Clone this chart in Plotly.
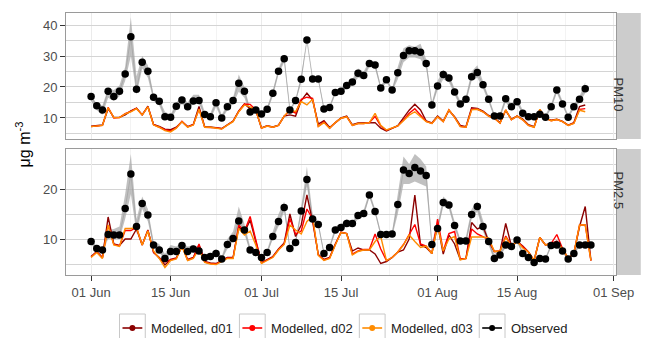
import pandas as pd
import plotly.graph_objects as go
from plotly.subplots import make_subplots

dates = pd.date_range("2015-06-01", periods=89, freq="D")
N = None

# ---------------- PM10 ----------------
pm10_obs = [16.9, 13.9, 12.6, 18.6, 16.9, 18.6, 24.2, 36.2, 19.3, 28.0, 25.1, 16.7, 15.4, 10.4, 10.2, 13.8, 15.8, 13.6, 15.5, 15.6,
            11.1, 10.4, 14.9, 10.0, 13.6, 15.6, 21.2, 18.6, 11.9, 12.6, 11.3, 12.8, 18.0, 25.1, 29.1, 12.6, 15.6, 22.5, 35.2, 22.6,
            22.6, 12.9, 13.4, 18.2, 18.6, 20.5, 21.6, 24.4, 23.7, 27.6, 27.1, 19.7, 22.3, 19.0, 24.6, 30.2, 31.7, 31.7, 31.2, 27.6,
            14.2, 20.3, 24.0, 22.9, 18.4, 14.5, 16.0, 23.3, 24.7, 20.7, 16.0, 10.6, 10.6, 16.2, 13.6, 15.2, 11.5, 10.4, 10.4, 11.2,
            10.2, 13.6, 19.0, 14.5, 10.2, 13.6, 16.0, 19.4, N]
pm10_lo = [15.5, 12.5, 11.0, 16.5, 15.5, 17.0, 22.0, 30.0, 17.5, 26.0, 23.0, 15.5, 14.0, 9.5, 9.5, 12.5, 14.5, 12.5, 14.5, 14.5,
           10.5, 9.5, 13.5, 9.5, 12.5, 14.5, 18.5, 16.5, 11.0, 11.5, 10.0, 12.0, 17.0, 24.0, 28.0, 12.0, 15.0, 21.5, 35.2, 22.0,
           22.0, 12.5, 13.0, 17.5, 18.0, 19.5, 20.5, 23.0, 22.5, 26.5, 26.0, 19.0, 21.5, 18.5, 22.5, 28.0, 29.5, 29.5, 29.0, 26.0,
           13.5, 19.0, 22.5, 21.5, 17.5, 13.5, 15.0, 22.0, 23.0, 19.5, 15.0, 10.0, 10.0, 15.0, 12.5, 14.5, 11.0, 10.0, 10.0, 10.5,
           9.8, 13.0, 18.0, 14.0, 9.8, 13.0, 15.0, 18.0, N]
pm10_hi = [17.5, 14.5, 14.0, 19.5, 19.0, 20.5, 26.5, 42.5, 23.5, 30.0, 27.0, 17.5, 16.0, 12.0, 11.0, 15.0, 17.0, 15.0, 17.5, 17.5,
           12.0, 11.5, 16.0, 11.0, 14.5, 16.5, 24.0, 20.0, 13.0, 13.5, 12.0, 13.5, 19.0, 26.0, 30.5, 13.0, 16.0, 24.0, 35.2, 23.0,
           23.0, 13.5, 14.0, 19.0, 19.5, 21.5, 22.5, 26.0, 25.0, 28.5, 28.0, 20.5, 23.0, 19.5, 26.5, 32.5, 33.5, 33.0, 34.0, 29.0,
           15.0, 22.0, 25.5, 24.0, 19.5, 15.5, 17.0, 25.0, 27.0, 22.0, 17.0, 11.5, 11.5, 17.0, 14.5, 16.5, 12.5, 11.0, 11.0, 12.0,
           11.0, 14.5, 20.0, 15.5, 11.0, 14.5, 17.0, 21.5, N]
pm10_d01 = [7.3, 7.6, 7.7, 13.0, 10.2, 10.2, 11.0, 12.3, 13.2, 11.0, 13.8, 7.9, 7.3, 6.4, 6.2, 7.0, 8.8, 7.2, 7.9, 13.7,
            7.2, 7.1, 6.9, 6.6, 7.8, 9.0, 12.3, 14.5, 13.0, 12.4, 6.8, 7.5, 7.1, 7.7, 10.6, 11.0, 10.6, 15.6, 18.0, 15.8,
            8.0, 9.1, 6.9, 8.6, 10.0, 10.6, 7.8, 8.4, 8.4, 8.6, 8.5, 6.7, 5.8, 6.6, 7.5, 10.0, 12.5, 14.4, 12.6, 9.0,
            8.4, 10.6, 9.0, 12.4, 10.4, 7.6, 7.2, 13.3, 13.1, 12.2, 10.8, 10.0, 8.5, 12.4, 9.6, 10.6, 9.6, 7.8, 7.2, 12.6,
            9.9, 9.3, 9.6, 8.9, 7.7, 8.5, 13.7, 14.2, N]
pm10_d02 = [7.2, 7.5, 7.6, 13.4, 10.0, 10.1, 11.4, 12.1, 13.1, 11.0, 13.6, 7.8, 7.1, 6.2, 5.8, 6.8, 8.9, 7.1, 7.8, 12.9,
            7.0, 7.0, 6.8, 6.5, 7.8, 8.9, 12.1, 14.5, 14.4, 12.6, 6.7, 7.4, 7.0, 7.6, 10.6, 12.4, 11.6, 16.0, 16.7, 16.3,
            7.3, 8.7, 6.7, 8.5, 9.9, 10.4, 7.6, 8.2, 8.2, 8.5, 10.5, 7.4, 6.0, 6.7, 7.4, 9.3, 11.5, 13.0, 11.0, 8.9,
            8.2, 10.4, 8.8, 12.6, 10.2, 7.3, 7.0, 12.8, 12.8, 12.0, 10.6, 9.9, 8.3, 12.6, 9.4, 10.6, 9.4, 7.6, 7.0, 12.7,
            9.9, 9.1, 9.5, 8.8, 7.6, 8.3, 12.8, 13.0, N]
pm10_d03 = [7.2, 7.5, 7.6, 13.3, 10.1, 10.1, 11.3, 12.0, 13.0, 11.0, 13.6, 7.7, 7.0, 5.9, 5.5, 6.7, 8.8, 7.0, 7.7, 12.8,
            7.0, 7.0, 6.7, 6.4, 7.7, 8.8, 12.0, 14.2, 13.6, 12.6, 6.7, 7.4, 7.0, 7.6, 10.6, 12.6, 12.0, 15.3, 14.2, 16.0,
            7.2, 8.5, 6.7, 8.5, 9.9, 10.4, 7.6, 8.2, 8.2, 8.5, 11.5, 7.6, 6.1, 6.7, 7.4, 9.1, 10.9, 12.0, 10.4, 8.8,
            8.2, 10.4, 8.8, 12.6, 10.2, 7.2, 7.0, 12.6, 12.8, 12.0, 10.6, 9.9, 8.3, 12.6, 9.4, 10.6, 9.4, 7.6, 7.0, 12.8,
            9.9, 9.1, 9.5, 8.8, 7.6, 8.2, 12.5, 12.0, N]

# ---------------- PM2.5 ----------------
pm25_obs = [9.5, 8.1, 7.8, 10.9, 10.8, 10.8, 16.1, 23.0, 12.5, 17.1, 14.8, 8.8, 7.8, 6.1, 7.5, 7.5, 8.7, 7.5, 8.0, 7.6,
            6.3, 6.5, 7.1, 6.0, 8.9, 10.1, 13.6, 11.8, 7.8, 7.3, 6.3, 7.3, 10.5, 13.5, 16.3, 8.1, 9.3, 15.6, 21.9, 14.0,
            12.9, 7.1, 8.3, 11.8, 12.3, 13.1, 13.1, 14.7, 15.1, 18.8, 15.5, 10.9, 10.9, 11.0, 16.9, 23.8, 23.1, 24.3, 23.6, 22.7,
            8.9, 12.1, 17.3, 16.8, 12.7, 9.6, 9.6, 14.9, 16.5, 12.5, 9.5, 6.1, 6.8, 8.8, 8.5, 9.8, 7.1, 6.3, 5.3, 6.1,
            6.0, 8.7, 8.8, 7.6, 6.0, 7.1, 8.8, 8.8, 8.8]
pm25_lo = [9.0, 7.5, 7.3, 10.0, 10.0, 10.0, 14.0, 19.0, 11.0, 16.0, 13.5, 8.3, 7.3, 5.8, 7.0, 7.0, 8.0, 7.0, 7.5, 7.2,
           6.0, 6.2, 6.7, 5.8, 8.0, 9.5, 12.0, 11.0, 7.3, 7.0, 6.0, 7.0, 10.0, 12.5, 15.5, 7.8, 9.0, 15.0, 20.5, 13.5,
           12.5, 6.8, 8.0, 11.3, 12.0, 12.5, 12.5, 14.0, 14.5, 18.3, 15.0, 10.5, 10.5, 10.5, 15.0, 21.0, 21.0, 21.5, 21.0, 20.5,
           8.5, 11.5, 16.5, 16.0, 12.0, 9.0, 9.0, 14.0, 15.5, 11.5, 8.8, 5.5, 6.5, 8.3, 8.0, 9.3, 6.8, 6.0, 5.0, 5.8,
           5.7, 8.3, 8.4, 7.3, 5.7, 6.8, 8.5, 8.5, 8.5]
pm25_hi = [10.0, 8.5, 8.3, 11.8, 12.0, 12.5, 19.0, 27.0, 14.0, 18.5, 16.0, 9.5, 9.0, 7.0, 8.8, 8.5, 9.3, 8.5, 8.8, 8.2,
           6.8, 7.0, 8.0, 6.5, 10.0, 11.5, 16.5, 13.0, 8.5, 7.8, 6.8, 7.8, 11.5, 15.0, 17.5, 8.5, 9.8, 16.5, 24.5, 15.0,
           13.5, 7.5, 8.8, 12.5, 13.0, 14.0, 13.5, 15.3, 15.8, 19.5, 16.0, 11.5, 11.5, 11.5, 19.0, 26.5, 25.0, 27.0, 26.0, 24.5,
           9.5, 13.0, 18.5, 17.5, 13.5, 10.0, 10.5, 16.0, 17.5, 13.5, 10.0, 7.0, 7.5, 9.5, 9.0, 10.3, 7.5, 6.7, 5.8, 6.5,
           6.3, 9.2, 9.2, 8.0, 6.4, 7.5, 9.2, 9.2, 9.2]
pm25_d01 = [6.5, 7.5, 6.3, 14.4, 9.0, 8.7, 10.0, 10.0, 12.0, 8.8, 11.8, 7.3, 6.3, 4.8, 5.9, 6.2, 8.6, 5.9, 6.3, 8.8,
            5.5, 5.2, 5.1, 5.7, 6.3, 6.3, 12.4, 11.3, 13.8, 9.5, 5.3, 5.9, 6.5, 8.0, 9.2, 15.0, 10.5, 12.8, 18.8, 13.5,
            6.9, 5.9, 6.3, 9.0, 11.3, 11.1, 7.6, 8.2, 7.8, 7.8, 7.0, 5.1, 5.5, 6.3, 7.4, 7.8, 10.0, 18.8, 8.8, 8.3,
            7.1, 13.0, 7.0, 10.8, 9.0, 5.9, 6.1, 13.3, 12.0, 12.5, 9.5, 7.5, 7.5, 13.1, 8.6, 9.5, 8.6, 7.4, 5.7, 10.3,
            8.8, 9.1, 9.6, 8.1, 6.1, 7.1, 12.5, 16.5, 5.7]
pm25_d02 = [6.4, 7.4, 6.2, 12.8, 8.9, 8.6, 11.7, 11.7, 12.3, 8.8, 11.7, 7.4, 6.2, 5.4, 5.8, 6.1, 8.6, 5.8, 6.2, 9.0,
            5.4, 5.1, 5.0, 5.6, 6.2, 6.2, 12.8, 11.5, 14.5, 9.8, 5.2, 5.8, 6.4, 7.9, 9.0, 14.1, 11.0, 11.6, 16.0, 14.0,
            6.8, 5.8, 6.2, 8.9, 11.4, 11.1, 7.0, 7.6, 7.9, 7.9, 11.0, 8.0, 5.7, 6.3, 7.4, 8.9, 10.9, 12.9, 9.0, 8.6,
            7.1, 14.0, 7.6, 11.1, 11.5, 6.0, 6.1, 12.0, 11.0, 10.5, 9.9, 7.5, 7.6, 10.6, 8.6, 9.5, 8.4, 7.4, 5.7, 10.3,
            8.8, 9.1, 10.9, 8.1, 6.1, 7.1, 12.8, 12.8, 5.7]
pm25_d03 = [6.3, 7.3, 6.1, 12.8, 8.8, 8.5, 12.1, 12.1, 12.3, 8.8, 11.6, 7.6, 6.1, 4.3, 5.7, 6.0, 8.5, 5.7, 6.1, 8.0,
            5.3, 5.0, 4.9, 5.5, 6.1, 6.1, 12.1, 10.8, 11.6, 8.8, 5.1, 5.7, 6.3, 7.8, 8.9, 12.8, 11.8, 11.0, 13.5, 14.5,
            6.7, 5.7, 6.1, 8.8, 11.3, 11.1, 6.8, 7.5, 7.8, 7.8, 9.5, 10.5, 5.7, 6.3, 7.4, 8.8, 10.8, 9.5, 8.3, 8.6,
            7.1, 12.7, 7.6, 10.0, 10.5, 5.8, 6.1, 10.4, 10.4, 10.4, 10.2, 7.5, 7.6, 10.3, 8.6, 9.5, 8.2, 7.4, 5.7, 10.3,
            8.8, 9.1, 9.1, 8.1, 6.1, 7.1, 12.8, 12.8, 5.7]

panels = ["PM10", "PM2.5"]
legend_names = ["Modelled, d01", "Modelled, d02", "Modelled, d03", "Observed"]
legend_colors = ["#8B0000", "#FF0000", "#FF8C00", "#000000"]

major_ticks = ["2015-06-01", "2015-06-15", "2015-07-01", "2015-07-15", "2015-08-01", "2015-08-15", "2015-09-01"]
major_labels = ["01 Jun", "15 Jun", "01 Jul", "15 Jul", "01 Aug", "15 Aug", "01 Sep"]
minor_ticks = ["2015-06-08", "2015-06-23", "2015-07-08", "2015-07-23 12:00", "2015-08-08", "2015-08-23 12:00"]

data = {
    "PM10": (pm10_obs, pm10_lo, pm10_hi, [pm10_d01, pm10_d02, pm10_d03]),
    "PM2.5": (pm25_obs, pm25_lo, pm25_hi, [pm25_d01, pm25_d02, pm25_d03]),
}

W, H = 646, 338
L, R, T, B = 66, 621, 13, 275  # plot area in pixels


def px(x):
    return (x - L) / (R - L)


def py(y):
    return (B - y) / (B - T)


fig = make_subplots(rows=2, cols=1, shared_xaxes=True, vertical_spacing=0.04)

for r, p in enumerate(panels, start=1):
    obs, lo, hi, mods = data[p]
    fig.add_trace(go.Scatter(x=dates, y=lo, mode="lines", line=dict(width=0), hoverinfo="skip",
                             showlegend=False), row=r, col=1)
    fig.add_trace(go.Scatter(x=dates, y=hi, mode="lines", line=dict(width=0), fill="tonexty",
                             fillcolor="rgba(165,165,165,0.7)", hoverinfo="skip", showlegend=False), row=r, col=1)
    fig.add_trace(go.Scatter(x=dates, y=obs, mode="lines", line=dict(color="#9a9a9a", width=0.6),
                             showlegend=False), row=r, col=1)
    for name, col, vals in zip(legend_names[:3], legend_colors[:3], mods):
        fig.add_trace(go.Scatter(x=dates, y=vals, mode="lines", name=name,
                                 line=dict(color=col, width=1.4), showlegend=False), row=r, col=1)
    fig.add_trace(go.Scatter(x=dates, y=obs, mode="markers", name="Observed",
                             marker=dict(color="black", size=7.5), showlegend=False), row=r, col=1)

xrange = ["2015-05-27 14:00", "2015-09-01 10:00"]
for r in (1, 2):
    fig.update_xaxes(row=r, col=1, range=xrange, tickvals=major_ticks, ticktext=major_labels,
                     showgrid=True, gridcolor="#ebebeb", gridwidth=1,
                     minor=dict(tickvals=minor_ticks, showgrid=True, gridcolor="#f3f3f3", gridwidth=0.8),
                     showline=True, linecolor="#9a9a9a", linewidth=1, mirror=True,
                     ticks="outside" if r == 2 else "", ticklen=5, tickcolor="#333333",
                     tickfont=dict(size=13, color="#4d4d4d"), zeroline=False)

fig.update_yaxes(row=1, col=1, range=[3.2, 43.9], tickvals=[10, 20, 30, 40],
                 minor=dict(tickvals=[5, 15, 25, 35], showgrid=True, gridcolor="#d4d4d4", gridwidth=1.2))
fig.update_yaxes(row=2, col=1, range=[2.8, 28.0], tickvals=[10, 20],
                 minor=dict(tickvals=[5, 15, 25], showgrid=True, gridcolor="#d4d4d4", gridwidth=1.2))
fig.update_yaxes(showgrid=True, gridcolor="#d4d4d4", gridwidth=1.2, zeroline=False,
                 showline=True, linecolor="#9a9a9a", linewidth=1, mirror=True,
                 ticks="outside", ticklen=5, tickcolor="#333333",
                 tickfont=dict(size=13, color="#4d4d4d"))

fig.update_layout(
    width=W, height=H,
    margin=dict(l=L, r=W - R, t=T, b=H - B),
    paper_bgcolor="white", plot_bgcolor="white",
    font=dict(family="Liberation Sans, Arial, sans-serif", color="#333333"),
    yaxis=dict(domain=[py(139), 1.0]),
    yaxis2=dict(domain=[0.0, py(149)]),
    showlegend=False,
)

# facet strips
for (y0, y1), label in zip([(py(139), 1.0), (0.0, py(149))], panels):
    fig.add_shape(type="rect", xref="paper", yref="paper", x0=px(622), x1=px(646), y0=y0, y1=y1,
                  fillcolor="#cccccc", line=dict(width=0), layer="below")
    fig.add_annotation(xref="paper", yref="paper", x=px(634), y=(y0 + y1) / 2, text=label,
                       showarrow=False, textangle=90, font=dict(size=13, color="#333333"))

fig.add_annotation(xref="paper", yref="paper", x=px(23), y=0.5, xanchor="center", yanchor="middle",
                   text="μg m<sup>-3</sup>", textangle=-90, showarrow=False,
                   font=dict(size=16, color="#000000"))

# custom legend with key boxes (as in the reference)
key_left = [120, 241, 362, 483]
ky0, ky1, kyc = 314, 340, 328
for name, col, kx in zip(legend_names, legend_colors, key_left):
    fig.add_shape(type="rect", xref="paper", yref="paper", x0=px(kx), x1=px(kx + 26),
                  y0=py(ky1), y1=py(ky0), line=dict(color="#c8c8c8", width=1), fillcolor="white")
    fig.add_shape(type="line", xref="paper", yref="paper", x0=px(kx + 3), x1=px(kx + 23),
                  y0=py(kyc), y1=py(kyc), line=dict(color=col, width=1.6))
    fig.add_shape(type="circle", xref="paper", yref="paper", x0=px(kx + 10), x1=px(kx + 16),
                  y0=py(kyc + 3), y1=py(kyc - 3), line=dict(color=col, width=0), fillcolor=col)
    fig.add_annotation(xref="paper", yref="paper", x=px(kx + 30), y=py(kyc), xanchor="left",
                       yanchor="middle", text=name, showarrow=False,
                       font=dict(size=13, color="#222222"))

fig.write_html("out.html", config={"displayModeBar": False},
               post_script="document.body.style.margin='0px';document.body.style.overflow='hidden';")
